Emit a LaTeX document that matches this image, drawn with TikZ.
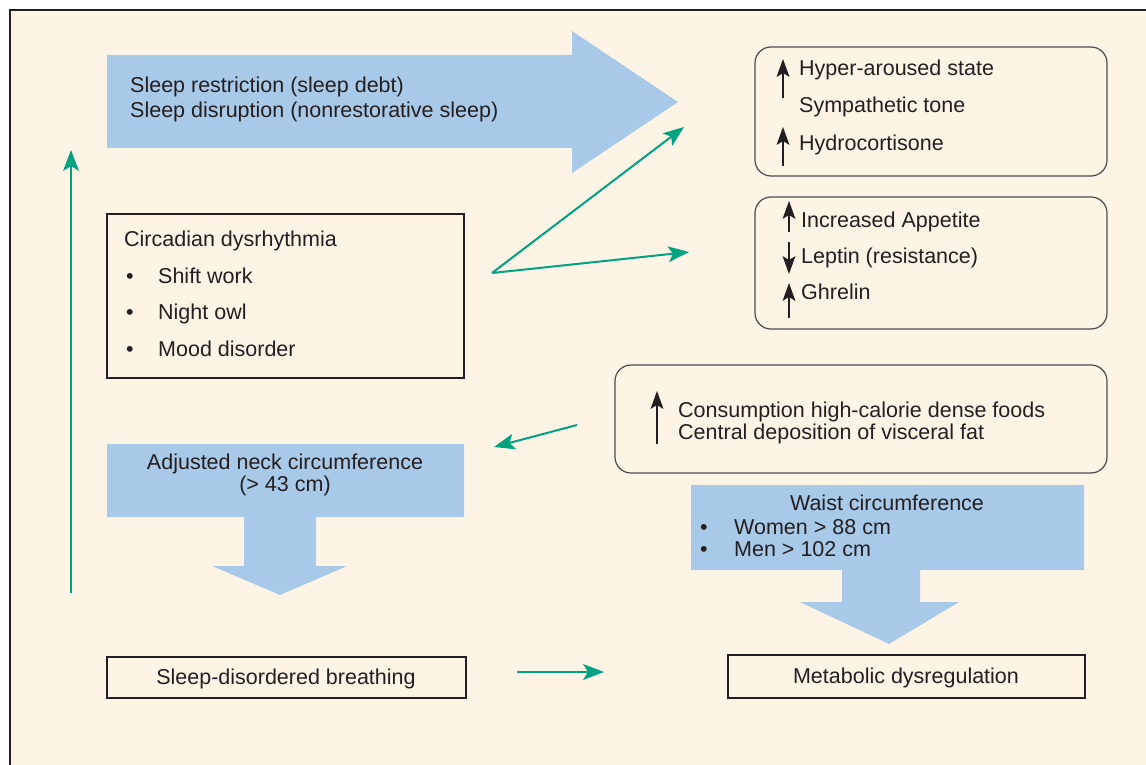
\documentclass[tikz,border=0pt]{standalone}
\usepackage{fontspec}
\setmainfont{Liberation Sans}
\usetikzlibrary{decorations.markings}
\definecolor{bgcream}{HTML}{FEF4E6}
\definecolor{flowblue}{HTML}{A8CAE8}
\definecolor{linkgreen}{HTML}{00A37F}
\definecolor{inkdark}{HTML}{231F20}
\tikzset{
  txt/.style={text=inkdark, font=\fontsize{21.5}{25}\selectfont, inner sep=0pt, anchor=base west},
  sqbox/.style={draw=inkdark, line width=1.8pt, inner sep=0pt},
  rndbox/.style={draw=inkdark!80!white, line width=1.2pt, rounded corners=16pt, inner sep=0pt},
  greenlink/.style={color=linkgreen, line width=2pt, shorten >=12pt, postaction={decorate},
    decoration={markings, mark=at position 1 with {\fill (0pt,0pt) -- (-21pt,8pt) -- (-16pt,0pt) -- (-21pt,-8pt) -- cycle;}}},
  updown/.style={color=inkdark, line width=1.8pt, shorten >=10pt, postaction={decorate},
    decoration={markings, mark=at position 1 with {\fill (0pt,0pt) -- (-18pt,6.5pt) -- (-14pt,0pt) -- (-18pt,-6.5pt) -- cycle;}}}
}
\begin{document}
\begin{tikzpicture}[x=1pt, y=1pt]
  \useasboundingbox (0,0) rectangle (1146,-765);
  \fill[white] (0,0) rectangle (1146,-765);
  \fill[bgcream] (10,-10) rectangle (1146,-765);
  \draw[inkdark, line width=2.5pt] (10,-765) -- (10,-10) -- (1146,-10);

  \fill[flowblue] (107,-55) -- (572,-55) -- (572,-31) -- (678,-102) -- (572,-173) -- (572,-148) -- (107,-148) -- cycle;
  \fill[flowblue] (107,-444) -- (464,-444) -- (464,-517) -- (316,-517) -- (316,-566) -- (347,-566) -- (280,-595)
    -- (212,-566) -- (244,-566) -- (244,-517) -- (107,-517) -- cycle;
  \fill[flowblue] (691,-485) -- (1084,-485) -- (1084,-570) -- (920,-570) -- (920,-602) -- (959,-602) -- (889,-644)
    -- (800,-602) -- (842,-602) -- (842,-570) -- (691,-570) -- cycle;

  \node[txt] (restrict) at (130,-93) {Sleep restriction (sleep debt)};
  \node[txt] (disrupt) at (130,-118) {Sleep disruption (nonrestorative sleep)};

  \node[sqbox, minimum width=357pt, minimum height=164pt] (circ) at (285.5,-296) {};
  \node[txt] (circhead) at (124,-246) {Circadian dysrhythmia};
  \foreach \item/\yy [count=\i] in {Shift work/283, Night owl/319, Mood disorder/356} {
    \node[txt] (bul\i) at (126,-\yy) {•};
    \node[txt] (circ\i) at (158,-\yy) {\item};
  }

  \node[rndbox, minimum width=352pt, minimum height=129pt] (stress) at (931,-111.5) {};
  \node[txt] (hyper) at (799,-76) {Hyper-aroused state};
  \node[txt] (symp) at (799,-113) {Sympathetic tone};
  \node[txt] (hydro) at (799,-150) {Hydrocortisone};
  \draw[updown] (783,-98) -- (783,-59);
  \draw[updown] (783,-166) -- (783,-127);

  \node[rndbox, minimum width=352pt, minimum height=132pt] (appetite) at (931,-263) {};
  \node[txt] (incr) at (801,-227) {Increased Appetite};
  \node[txt] (leptin) at (801,-263) {Leptin (resistance)};
  \node[txt] (ghrelin) at (801,-299) {Ghrelin};
  \draw[updown] (789,-232) -- (789,-201);
  \draw[updown] (789,-242) -- (789,-274);
  \draw[updown] (789,-318) -- (789,-283);

  \node[rndbox, minimum width=492pt, minimum height=108pt] (intake) at (861,-419) {};
  \node[txt] (consume) at (678,-417) {Consumption high-calorie dense foods};
  \node[txt] (visceral) at (678,-439) {Central deposition of visceral fat};
  \draw[updown] (657,-444) -- (657,-391);

  \node[txt, anchor=base] (neck) at (285,-469) {Adjusted neck circumference};
  \node[txt, anchor=base] (neckval) at (285,-491) {(> 43 cm)};

  \node[txt, anchor=base] (waist) at (887,-510) {Waist circumference};
  \node[txt] (wbul1) at (700,-534) {•};
  \node[txt] (women) at (734,-534) {Women > 88 cm};
  \node[txt] (wbul2) at (700,-556) {•};
  \node[txt] (men) at (734,-556) {Men > 102 cm};

  \node[sqbox, minimum width=359pt, minimum height=41pt] (sdb) at (286.5,-677.5) {};
  \node[txt, anchor=base] (sdbtext) at (286,-684) {Sleep-disordered breathing};
  \node[sqbox, minimum width=357pt, minimum height=43pt] (metab) at (906.5,-676.5) {};
  \node[txt, anchor=base] (metabtext) at (906,-683) {Metabolic dysregulation};

  \coordinate (loopstart) at (71,-593);
  \coordinate (loopend) at (71,-150);
  \coordinate (fork) at (492,-273);
  \coordinate (tostress) at (684,-127);
  \coordinate (toappetite) at (689,-252);
  \coordinate (fromintake) at (577,-425);
  \coordinate (toneck) at (494,-447);
  \coordinate (fromsdb) at (517,-672);
  \coordinate (tometab) at (604,-672);

  \draw[greenlink] (loopstart) -- (loopend);
  \draw[greenlink] (fork) -- (tostress);
  \draw[greenlink] (fork) -- (toappetite);
  \draw[greenlink] (fromintake) -- (toneck);
  \draw[greenlink] (fromsdb) -- (tometab);
\end{tikzpicture}
\end{document}
